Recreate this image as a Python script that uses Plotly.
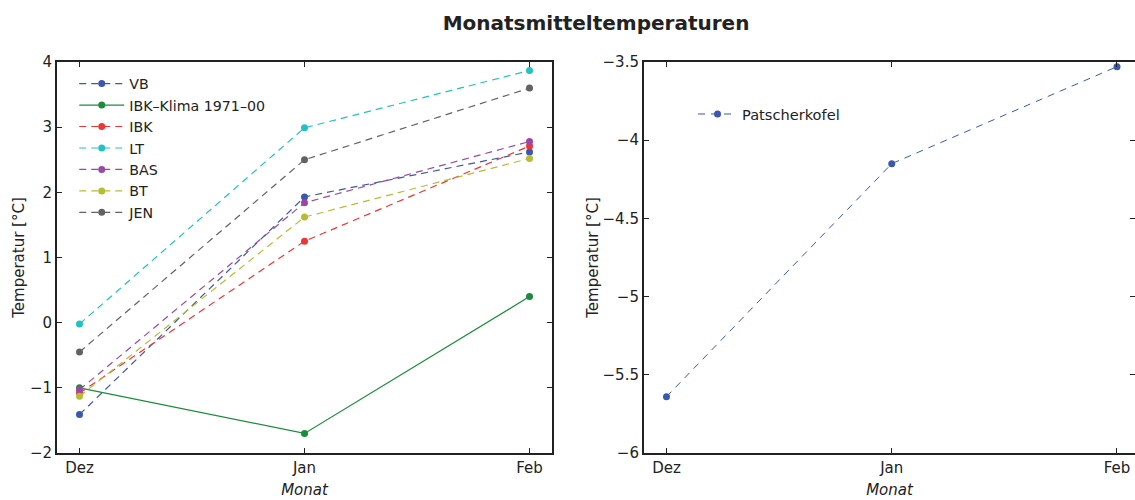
import plotly.graph_objects as go

# Monthly mean temperatures, December to February
months = ["Dez", "Jan", "Feb"]

vb = [-1.41, 1.93, 2.62]
ibk_klima = [-1.00, -1.70, 0.40]
ibk = [-1.08, 1.25, 2.71]
lt = [-0.02, 2.99, 3.87]
bas = [-1.03, 1.84, 2.78]
bt = [-1.13, 1.62, 2.52]
jen = [-0.45, 2.50, 3.60]

patscherkofel = [-5.64, -4.15, -3.53]

series = [
    ("VB", vb, "#3b57ae", "dash"),
    ("IBK\u2013Klima 1971\u201300", ibk_klima, "#1b8c3c", "solid"),
    ("IBK", ibk, "#ef3434", "dash"),
    ("LT", lt, "#22c1c3", "dash"),
    ("BAS", bas, "#9a48a6", "dash"),
    ("BT", bt, "#b6bd33", "dash"),
    ("JEN", jen, "#626262", "dash"),
]

FONT = "DejaVu Sans"
INK = "#222222"

fig = go.Figure()

for name, vals, color, style in series:
    fig.add_trace(go.Scatter(
        x=months, y=vals, name=name, mode="lines+markers",
        line=dict(color=color, width=1.2, dash="7px,5px" if style == "dash" else "solid"),
        marker=dict(color=color, size=7),
        xaxis="x", yaxis="y", legend="legend",
    ))

fig.add_trace(go.Scatter(
    x=months, y=patscherkofel, name="Patscherkofel", mode="lines+markers",
    line=dict(color="#3b57ae", width=1, dash="7px,6px"),
    marker=dict(color="#3b57ae", size=7),
    xaxis="x2", yaxis="y2", legend="legend2",
))

# invisible carrier for the tick-only right-hand axis of the second panel
fig.add_trace(go.Scatter(
    x=months, y=patscherkofel, mode="markers", marker=dict(opacity=0),
    hoverinfo="skip", showlegend=False, xaxis="x2", yaxis="y3",
))

axis_common = dict(
    showline=True, linecolor=INK, linewidth=2, mirror="ticks",
    ticks="inside", ticklen=5, tickwidth=1, tickcolor=INK,
    showgrid=False, zeroline=False,
    tickfont=dict(family=FONT, size=15, color=INK),
)
title_font = dict(family=FONT, size=15, color=INK)

yaxis2_opts = dict(axis_common)
yaxis2_opts["mirror"] = False

fig.update_layout(
    width=1135, height=500,
    margin=dict(l=57, r=0, t=62, b=47),
    paper_bgcolor="white", plot_bgcolor="white",
    font=dict(family=FONT, size=15, color=INK),
    title=dict(text="<b>Monatsmitteltemperaturen</b>", x=0.5, xref="paper",
               xanchor="center", y=0.955, yanchor="middle",
               font=dict(family=FONT, size=20, color=INK)),
    xaxis=dict(domain=[0, 0.4592], type="category", range=[-0.1, 2.1],
               title=dict(text="<i>Monat</i>", standoff=8, font=title_font),
               **axis_common),
    yaxis=dict(domain=[0, 1], range=[-2, 4], dtick=1,
               title=dict(text="Temperatur [°C]", standoff=2, font=title_font),
               **axis_common),
    xaxis2=dict(domain=[0.5445, 1], type="category", range=[-0.1, 2.08], anchor="y2",
                title=dict(text="<i>Monat</i>", standoff=8, font=title_font),
                **axis_common),
    yaxis2=dict(domain=[0, 1], range=[-6, -3.5], dtick=0.5, anchor="x2",
                title=dict(text="Temperatur [°C]", standoff=0, font=title_font),
                **yaxis2_opts),
    yaxis3=dict(range=[-6, -3.5], dtick=0.5, overlaying="y2", side="right",
                anchor="x2", showline=False, showgrid=False, zeroline=False,
                showticklabels=False, ticks="inside", ticklen=5, tickwidth=1,
                tickcolor=INK),
    legend=dict(x=0.016, y=0.985, xanchor="left", yanchor="top",
                bgcolor="rgba(0,0,0,0)", borderwidth=0, itemwidth=45,
                font=dict(family=FONT, size=14.2, color=INK)),
    legend2=dict(x=0.59, y=0.867, xanchor="left", yanchor="middle",
                 bgcolor="rgba(0,0,0,0)", borderwidth=0, itemwidth=39,
                 font=dict(family=FONT, size=14.6, color=INK)),
)

fig.write_html("out.html")
